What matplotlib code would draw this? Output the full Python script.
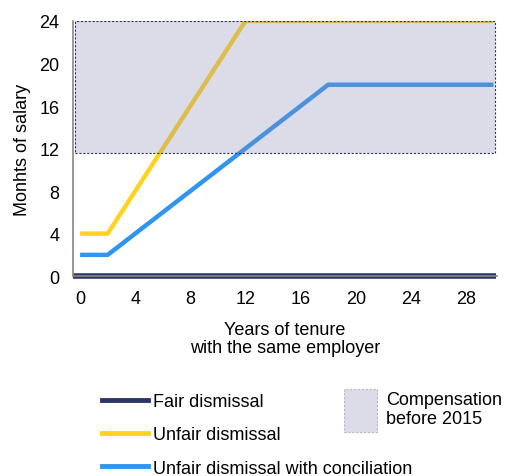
import matplotlib.pyplot as plt
from matplotlib.patches import Rectangle
from matplotlib.lines import Line2D

plt.rcParams["font.family"] = ["Liberation Sans", "DejaVu Sans"]
plt.rcParams["font.size"] = 13

# tenure (years) -> months of salary
fair_x = [-0.5, 30.2]
fair_y = [0, 0]
unfair_x = [0, 2, 12, 30]
unfair_y = [4, 4, 24, 24]
concil_x = [0, 2, 18, 30]
concil_y = [2, 2, 18, 18]
# old compensation band
band_x = [-0.4, 30.1]
band_y = [11.6, 24]

x_ticks = [0, 4, 8, 12, 16, 20, 24, 28]
y_ticks = [0, 4, 8, 12, 16, 20, 24]

navy = "#2d3568"
yellow = "#ffd320"
blue = "#2f95ee"
shade = (0.55, 0.55, 0.72)

fig = plt.figure(figsize=(5.05, 4.77), dpi=100)
ax = fig.add_axes([0.145, 0.419, 0.839, 0.535])

ax.plot(unfair_x, unfair_y, color=yellow, lw=3.2, solid_capstyle="butt")
ax.plot(concil_x, concil_y, color=blue, lw=3.2, solid_capstyle="butt")
ax.plot(fair_x, fair_y, color=navy, lw=4, clip_on=False, solid_capstyle="butt")

w = band_x[1] - band_x[0]
h = band_y[1] - band_y[0]
ax.add_patch(Rectangle((band_x[0], band_y[0]), w, h,
                       facecolor=shade, alpha=0.3, edgecolor="none", zorder=3))
ax.add_patch(Rectangle((band_x[0], band_y[0]), w, h,
                       facecolor="none", edgecolor=navy, lw=0.8, ls=(0, (2, 1.5)), zorder=4))

ax.set_xlim(-0.5, 30.25)
ax.set_ylim(0, 24)
ax.set_xticks(x_ticks)
ax.set_yticks(y_ticks)
ax.tick_params(length=0, labelsize=13, pad=10)
ax.spines["top"].set_visible(False)
ax.spines["right"].set_visible(False)
for s in ["left", "bottom"]:
    ax.spines[s].set_color("#888888")
    ax.spines[s].set_linewidth(1.2)
ax.set_xlabel("Years of tenure\nwith the same employer", fontsize=13, labelpad=10,
              linespacing=1.1)
ax.set_ylabel("Monhts of salary", fontsize=13, labelpad=6)

handles = [Line2D([], [], color=navy, lw=3.5),
           Line2D([], [], color=yellow, lw=3.5),
           Line2D([], [], color=blue, lw=3.5)]
labels = ["Fair dismissal", "Unfair dismissal", "Unfair dismissal with conciliation"]
fig.legend(handles, labels, loc="upper left", bbox_to_anchor=(0.202, 0.174),
           bbox_transform=fig.transFigure, frameon=False, fontsize=13,
           handlelength=2.55, handletextpad=0.25, labelspacing=0.9,
           borderaxespad=0, borderpad=0)

patch_h = Rectangle((0, 0), 1, 1, facecolor=shade, alpha=0.3,
                    edgecolor=navy, lw=0.8, ls=(0, (2, 1.5)))
fig.legend([patch_h], ["Compensation\nbefore 2015"], loc="upper left",
           bbox_to_anchor=(0.681, 0.183), bbox_transform=fig.transFigure,
           frameon=False, fontsize=13, handlelength=1.83, handleheight=3.3,
           handletextpad=0.5, borderaxespad=0, borderpad=0)

fig.savefig("out.png", dpi=100)
